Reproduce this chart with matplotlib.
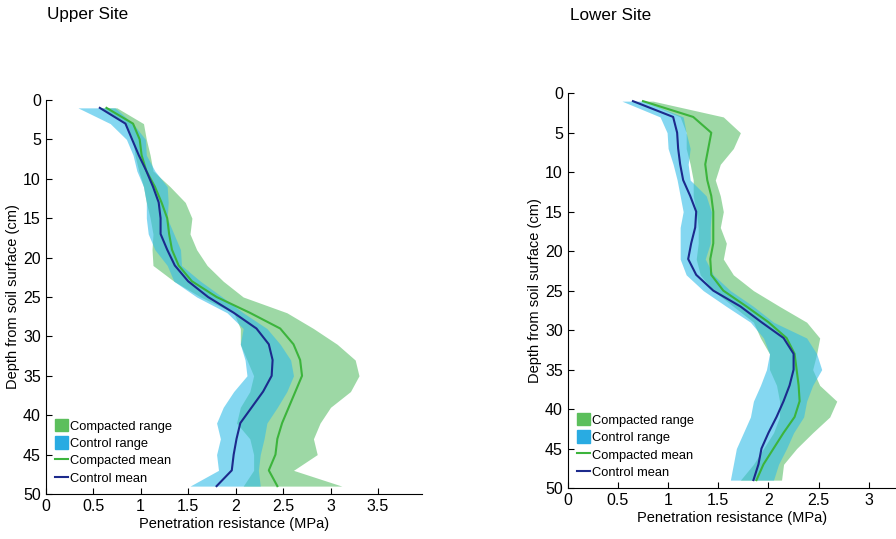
import matplotlib
matplotlib.use("Agg")
import matplotlib.pyplot as plt
from matplotlib.patches import Patch
from matplotlib.lines import Line2D

plt.rcParams['font.family'] = ['Liberation Sans', 'DejaVu Sans']

depth = [1, 3, 5, 7, 9, 11, 13, 15, 17, 19, 21, 23, 25, 27, 29, 31, 33, 35, 37, 39, 41, 43, 45, 47, 49]

# Upper site
up_ctrl_mean = [0.57, 0.84, 0.91, 0.98, 1.06, 1.13, 1.19, 1.21, 1.21, 1.28, 1.36, 1.50, 1.71, 1.98, 2.22, 2.35,
                2.39, 2.38, 2.29, 2.17, 2.05, 2.01, 1.98, 1.96, 1.80]
up_comp_mean = [0.64, 0.92, 0.99, 1.01, 1.06, 1.15, 1.22, 1.28, 1.30, 1.33, 1.40, 1.54, 1.80, 2.15, 2.47, 2.61,
                2.68, 2.70, 2.63, 2.56, 2.49, 2.44, 2.42, 2.35, 2.44]
up_ctrl_lo = [0.34, 0.68, 0.85, 0.92, 0.96, 1.03, 1.06, 1.06, 1.08, 1.15, 1.28, 1.35, 1.59, 1.91, 2.08, 2.05,
              2.10, 2.12, 1.98, 1.87, 1.80, 1.84, 1.80, 1.82, 1.52]
up_ctrl_hi = [0.73, 0.92, 1.05, 1.06, 1.15, 1.28, 1.29, 1.28, 1.35, 1.42, 1.43, 1.63, 1.86, 2.08, 2.33, 2.47,
              2.58, 2.61, 2.54, 2.44, 2.33, 2.30, 2.26, 2.24, 2.26]
up_comp_lo = [0.57, 0.84, 0.92, 0.94, 0.98, 1.03, 1.06, 1.10, 1.13, 1.12, 1.13, 1.35, 1.63, 1.98, 2.05, 2.05,
              2.12, 2.19, 2.15, 2.05, 2.01, 2.15, 2.19, 2.19, 2.08]
up_comp_hi = [0.75, 1.03, 1.06, 1.10, 1.13, 1.31, 1.47, 1.54, 1.52, 1.59, 1.70, 1.87, 2.08, 2.54, 2.82, 3.07,
              3.26, 3.30, 3.21, 3.00, 2.89, 2.82, 2.86, 2.61, 3.12]

# Lower site
lo_ctrl_mean = [0.65, 1.05, 1.09, 1.10, 1.12, 1.15, 1.22, 1.28, 1.27, 1.23, 1.20, 1.28, 1.45, 1.72, 1.93, 2.15,
                2.25, 2.25, 2.21, 2.15, 2.08, 2.00, 1.93, 1.90, 1.85]
lo_comp_mean = [0.75, 1.25, 1.43, 1.40, 1.37, 1.39, 1.43, 1.45, 1.45, 1.45, 1.42, 1.43, 1.55, 1.78, 2.00, 2.18,
                2.26, 2.28, 2.30, 2.31, 2.26, 2.15, 2.05, 1.95, 1.88]
lo_ctrl_lo = [0.54, 0.92, 0.99, 1.00, 1.05, 1.09, 1.12, 1.15, 1.12, 1.12, 1.12, 1.18, 1.35, 1.58, 1.82, 1.95,
              2.01, 1.98, 1.92, 1.85, 1.82, 1.75, 1.68, 1.65, 1.62]
lo_ctrl_hi = [0.75, 1.15, 1.18, 1.22, 1.20, 1.22, 1.38, 1.43, 1.42, 1.42, 1.37, 1.45, 1.62, 1.85, 2.05, 2.38,
              2.48, 2.53, 2.44, 2.38, 2.35, 2.25, 2.18, 2.10, 2.05]
lo_comp_lo = [0.75, 1.12, 1.18, 1.18, 1.22, 1.25, 1.25, 1.28, 1.30, 1.30, 1.28, 1.32, 1.45, 1.65, 1.85, 1.92,
              2.01, 2.01, 2.08, 2.11, 2.11, 2.05, 1.95, 1.85, 1.72]
lo_comp_hi = [0.85, 1.55, 1.72, 1.65, 1.52, 1.47, 1.52, 1.55, 1.52, 1.58, 1.55, 1.65, 1.85, 2.11, 2.38, 2.51,
              2.48, 2.44, 2.51, 2.68, 2.61, 2.44, 2.28, 2.15, 2.13]

green_fill = '#5cbf6a'
blue_fill = '#33bde8'
green_line = '#3cb43c'
navy_line = '#1c2a8c'

fig = plt.figure(figsize=(8.96, 5.39), dpi=100)
ax1 = fig.add_axes([0.051, 0.0835, 0.4196, 0.731])
ax2 = fig.add_axes([0.6336, 0.0946, 0.3664, 0.7324])


def draw(ax, cm, gm, clo, chi, glo, ghi, xmax, xticks):
    ax.fill_betweenx(depth, glo, ghi, color=green_fill, alpha=0.6, lw=0)
    ax.fill_betweenx(depth, clo, chi, color=blue_fill, alpha=0.6, lw=0)
    ax.plot(gm, depth, color=green_line, lw=1.5)
    ax.plot(cm, depth, color=navy_line, lw=1.5)
    ax.set_ylim(50, 0)
    ax.set_xlim(0, xmax)
    ax.set_xticks(xticks)
    ax.set_xticklabels([f"{t:g}" for t in xticks])
    ax.set_yticks(range(0, 51, 5))
    ax.spines['top'].set_visible(False)
    ax.spines['right'].set_visible(False)
    ax.tick_params(direction='in', labelsize=11.5, length=4)
    ax.set_xlabel('Penetration resistance (MPa)', fontsize=10.5, labelpad=2)
    ax.set_ylabel('Depth from soil surface (cm)', fontsize=10.5, labelpad=2)
    handles = [Patch(color='#5cbf5c', label='Compacted range'),
               Patch(color='#29abe2', label='Control range'),
               Line2D([], [], color=green_line, lw=1.5, label='Compacted mean'),
               Line2D([], [], color=navy_line, lw=1.5, label='Control mean')]
    ax.legend(handles=handles, loc='lower left', frameon=False, fontsize=9.3,
              handlelength=1.0, handleheight=1.1, handletextpad=0.15, labelspacing=0.3,
              borderaxespad=0.3, bbox_to_anchor=(0.0, 0.0))


draw(ax1, up_ctrl_mean, up_comp_mean, up_ctrl_lo, up_ctrl_hi, up_comp_lo, up_comp_hi,
     3.96, [0, 0.5, 1, 1.5, 2, 2.5, 3, 3.5])
draw(ax2, lo_ctrl_mean, lo_comp_mean, lo_ctrl_lo, lo_ctrl_hi, lo_comp_lo, lo_comp_hi,
     3.27, [0, 0.5, 1, 1.5, 2, 2.5, 3])

fig.text(47 / 896, 1 - 15 / 539, 'Upper Site', fontsize=12.3, va='center', ha='left')
fig.text(570 / 896, 1 - 15 / 539, 'Lower Site', fontsize=12.3, va='center', ha='left')

fig.savefig('out.png', dpi=100)
